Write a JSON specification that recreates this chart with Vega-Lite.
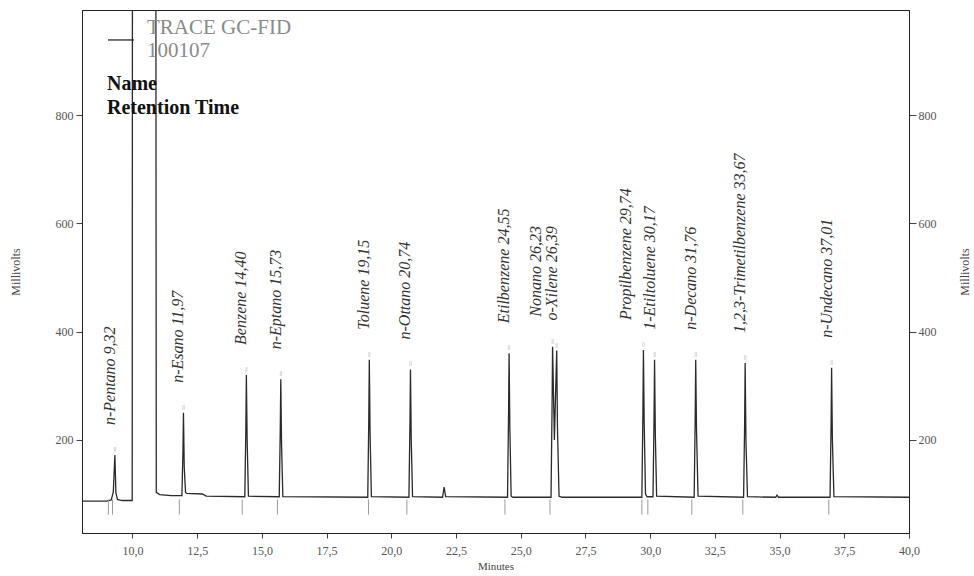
{
  "$schema": "https://vega.github.io/schema/vega-lite/v6.json",
  "width": 827,
  "height": 523,
  "autosize": {"type": "none"},
  "padding": {"left": 82, "top": 10, "right": 65, "bottom": 43},
  "background": "white",
  "config": {
    "view": {"stroke": "#222", "strokeWidth": 1},
    "font": "Liberation Serif",
    "axis": {
      "grid": false,
      "labelFont": "Liberation Serif",
      "titleFont": "Liberation Serif",
      "labelFontSize": 12,
      "titleFontSize": 12,
      "titleFontWeight": "normal",
      "labelColor": "#555",
      "titleColor": "#444",
      "domainColor": "#222",
      "tickColor": "#444"
    }
  },
  "datasets": {
    "trace": [
      {"min": 8.05, "mv": 87}, {"min": 9.0, "mv": 87}, {"min": 9.18, "mv": 89}, {"min": 9.26, "mv": 104},
      {"min": 9.32, "mv": 172}, {"min": 9.36, "mv": 102}, {"min": 9.42, "mv": 90}, {"min": 9.6, "mv": 88},
      {"min": 9.99, "mv": 88}, {"min": 10.0, "mv": 1300}, {"min": 10.9, "mv": 1300}, {"min": 10.92, "mv": 103},
      {"min": 11.05, "mv": 99}, {"min": 11.5, "mv": 97}, {"min": 11.91, "mv": 97}, {"min": 11.95, "mv": 180}, {"min": 11.97, "mv": 250},
      {"min": 12.0, "mv": 150}, {"min": 12.05, "mv": 103}, {"min": 12.1, "mv": 101}, {"min": 12.7, "mv": 100}, {"min": 12.85, "mv": 96},
      {"min": 14.34, "mv": 95}, {"min": 14.38, "mv": 220}, {"min": 14.4, "mv": 320}, {"min": 14.43, "mv": 200}, {"min": 14.48, "mv": 96},
      {"min": 15.67, "mv": 95}, {"min": 15.71, "mv": 220}, {"min": 15.73, "mv": 312}, {"min": 15.76, "mv": 190}, {"min": 15.81, "mv": 95},
      {"min": 19.09, "mv": 94}, {"min": 19.13, "mv": 240}, {"min": 19.15, "mv": 348}, {"min": 19.18, "mv": 210}, {"min": 19.23, "mv": 95},
      {"min": 20.68, "mv": 94}, {"min": 20.72, "mv": 230}, {"min": 20.74, "mv": 330}, {"min": 20.77, "mv": 200}, {"min": 20.82, "mv": 95},
      {"min": 21.98, "mv": 94}, {"min": 22.04, "mv": 113}, {"min": 22.1, "mv": 95},
      {"min": 24.49, "mv": 94}, {"min": 24.53, "mv": 250}, {"min": 24.55, "mv": 360}, {"min": 24.58, "mv": 220}, {"min": 24.63, "mv": 96}, {"min": 24.7, "mv": 94},
      {"min": 26.17, "mv": 94}, {"min": 26.21, "mv": 260}, {"min": 26.23, "mv": 372}, {"min": 26.3, "mv": 200}, {"min": 26.39, "mv": 365},
      {"min": 26.42, "mv": 220}, {"min": 26.48, "mv": 96}, {"min": 26.6, "mv": 94},
      {"min": 29.68, "mv": 94}, {"min": 29.72, "mv": 250}, {"min": 29.74, "mv": 366}, {"min": 29.77, "mv": 230}, {"min": 29.82, "mv": 100}, {"min": 29.88, "mv": 95},
      {"min": 30.11, "mv": 95}, {"min": 30.15, "mv": 240}, {"min": 30.17, "mv": 348}, {"min": 30.2, "mv": 210}, {"min": 30.25, "mv": 96},
      {"min": 31.7, "mv": 94}, {"min": 31.74, "mv": 240}, {"min": 31.76, "mv": 348}, {"min": 31.79, "mv": 220}, {"min": 31.85, "mv": 96},
      {"min": 33.61, "mv": 94}, {"min": 33.65, "mv": 230}, {"min": 33.67, "mv": 342}, {"min": 33.7, "mv": 200}, {"min": 33.76, "mv": 95},
      {"min": 34.85, "mv": 94}, {"min": 34.9, "mv": 98}, {"min": 34.96, "mv": 94},
      {"min": 36.95, "mv": 94}, {"min": 36.99, "mv": 230}, {"min": 37.01, "mv": 333}, {"min": 37.04, "mv": 200}, {"min": 37.1, "mv": 95},
      {"min": 40.0, "mv": 94}
    ],
    "peaks": [
      {"name": "n-Pentano", "rt": 9.32, "mv": 172, "label": "n-Pentano  9,32"},
      {"name": "n-Esano", "rt": 11.97, "mv": 250, "label": "n-Esano  11,97"},
      {"name": "Benzene", "rt": 14.4, "mv": 320, "label": "Benzene  14,40"},
      {"name": "n-Eptano", "rt": 15.73, "mv": 312, "label": "n-Eptano  15,73"},
      {"name": "Toluene", "rt": 19.15, "mv": 348, "label": "Toluene  19,15"},
      {"name": "n-Ottano", "rt": 20.74, "mv": 330, "label": "n-Ottano  20,74"},
      {"name": "Etilbenzene", "rt": 24.55, "mv": 360, "label": "Etilbenzene  24,55"},
      {"name": "Nonano", "rt": 26.23, "mv": 372, "label": "Nonano  26,23"},
      {"name": "o-Xilene", "rt": 26.39, "mv": 365, "label": "o-Xilene  26,39"},
      {"name": "Propilbenzene", "rt": 29.74, "mv": 366, "label": "Propilbenzene  29,74"},
      {"name": "1-Etiltoluene", "rt": 30.17, "mv": 348, "label": "1-Etiltoluene  30,17"},
      {"name": "n-Decano", "rt": 31.76, "mv": 348, "label": "n-Decano  31,76"},
      {"name": "1,2,3-Trimetilbenzene", "rt": 33.67, "mv": 342, "label": "1,2,3-Trimetilbenzene  33,67"},
      {"name": "n-Undecano", "rt": 37.01, "mv": 333, "label": "n-Undecano  37,01"}
    ],
    "starts": [
      {"min": 9.07}, {"min": 9.23}, {"min": 11.81}, {"min": 14.24}, {"min": 15.6}, {"min": 19.12},
      {"min": 20.6}, {"min": 24.39}, {"min": 26.13}, {"min": 29.68}, {"min": 29.91}, {"min": 31.61},
      {"min": 33.58}, {"min": 36.9}
    ]
  },
  "layer": [
    {
      "data": {"name": "trace"},
      "mark": {"type": "line", "clip": true, "strokeWidth": 1.3},
      "encoding": {
        "x": {
          "field": "min", "type": "quantitative",
          "scale": {"domain": [8.05, 40], "nice": false, "zero": false},
          "axis": {
            "title": "Minutes", "values": [10, 12.5, 15, 17.5, 20, 22.5, 25, 27.5, 30, 32.5, 35, 37.5, 40],
            "labelExpr": "replace(format(datum.value, '.1f'), '.', ',')",
            "tickSize": 5, "labelPadding": 7, "titlePadding": 4, "titleFontSize": 11, "labelFlush": false
          }
        },
        "y": {
          "field": "mv", "type": "quantitative",
          "scale": {"domain": [28, 994], "nice": false, "zero": false},
          "axis": {"orient": "left", "title": "Millivolts", "values": [200, 400, 600, 800], "tickSize": 6, "labelPadding": 3, "titlePadding": 33}
        },
        "color": {
          "datum": "TRACE GC-FID", "type": "nominal",
          "scale": {"range": ["#2a2a2a"]},
          "legend": {
            "orient": "none", "legendX": 25, "legendY": 4, "padding": 0,
            "title": ["Name", "Retention Time"], "titleOrient": "bottom", "titleAnchor": "start",
            "titleFont": "Liberation Serif", "titleFontSize": 20, "titleFontWeight": "bold", "titleColor": "#111",
            "titleLineHeight": 24, "titlePadding": 13, "titleLimit": 400,
            "labelFont": "Liberation Serif", "labelFontSize": 21, "labelColor": "#8a8a8a",
            "labelExpr": "['TRACE GC-FID', '100107']", "labelLimit": 400, "labelOffset": 12,
            "symbolType": "M-1,0.92L1,0.92", "symbolSize": 676, "symbolStrokeWidth": 1.3
          }
        }
      }
    },
    {
      "data": {"name": "starts"},
      "mark": {"type": "rule", "color": "#9a9a9a", "strokeWidth": 1},
      "encoding": {
        "x": {"field": "min", "type": "quantitative"},
        "y": {"datum": 90, "type": "quantitative", "axis": null},
        "y2": {"datum": 62}
      }
    },
    {
      "data": {"name": "peaks"},
      "mark": {"type": "text", "text": "||", "fontSize": 7, "color": "#999", "baseline": "bottom", "dy": -3},
      "encoding": {
        "x": {"field": "rt", "type": "quantitative"},
        "y": {
          "field": "mv", "type": "quantitative",
          "axis": {"orient": "right", "title": "Millivolts", "titleAngle": -90, "values": [200, 400, 600, 800], "tickSize": 7, "labelPadding": 2, "titlePadding": 35}
        }
      }
    },
    {
      "data": {"name": "peaks"},
      "transform": [{"filter": "indexof(['Nonano', 'Propilbenzene'], datum.name) < 0"}],
      "mark": {"type": "text", "angle": -90, "align": "left", "baseline": "alphabetic", "dx": 30, "dy": 0, "fontSize": 16, "fontStyle": "italic", "font": "Liberation Serif", "color": "#333"},
      "encoding": {
        "x": {"field": "rt", "type": "quantitative"},
        "y": {"field": "mv", "type": "quantitative", "axis": null},
        "text": {"field": "label"}
      }
    },
    {
      "data": {"name": "peaks"},
      "transform": [{"filter": "indexof(['Nonano', 'Propilbenzene'], datum.name) >= 0"}],
      "mark": {"type": "text", "angle": -90, "align": "left", "baseline": "alphabetic", "dx": 30, "dy": -12, "fontSize": 16, "fontStyle": "italic", "font": "Liberation Serif", "color": "#333"},
      "encoding": {
        "x": {"field": "rt", "type": "quantitative"},
        "y": {"field": "mv", "type": "quantitative", "axis": null},
        "text": {"field": "label"}
      }
    }
  ],
  "resolve": {"axis": {"y": "independent"}}
}
